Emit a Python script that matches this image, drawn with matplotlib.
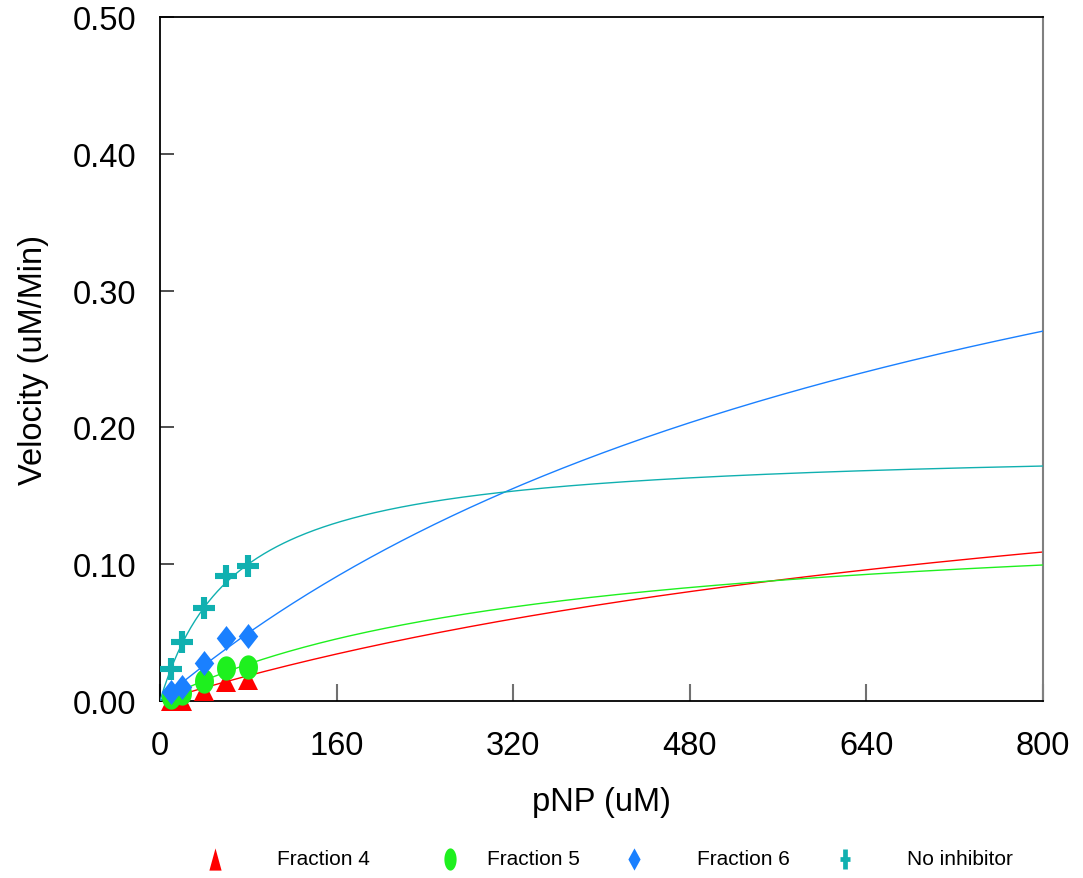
import matplotlib.pyplot as plt
import numpy as np
from matplotlib.path import Path
from matplotlib.lines import Line2D

plt.rcParams['font.family'] = ['Liberation Sans', 'DejaVu Sans']

# substrate concentrations (uM)
pnp = [10, 20, 40, 60, 80]

# measured velocities (uM/Min)
frac4 = [0.000, 0.0002, 0.0075, 0.0141, 0.0154]
frac5 = [0.0027, 0.0058, 0.0148, 0.0241, 0.0251]
frac6 = [0.0066, 0.0105, 0.0276, 0.0458, 0.0475]
no_inh = [0.0234, 0.0433, 0.0678, 0.0916, 0.0989]

# Michaelis-Menten fit parameters per series
vmax = [0.2385, 0.1416, 0.534, 0.1866]
km = [952.0, 339.6, 780.0, 69.2]

names = ['Fraction 4', 'Fraction 5', 'Fraction 6', 'No inhibitor']
colors = ['#ff0000', '#1ef01e', '#1a80ff', '#10b0b0']


def ellipse(w):
    t = np.linspace(0, 2 * np.pi, 60)
    return Path(np.column_stack([w * np.cos(t), np.sin(t)]))


def diamond(w):
    return Path([(0, 1), (w, 0), (0, -1), (-w, 0), (0, 1)],
                [Path.MOVETO, Path.LINETO, Path.LINETO, Path.LINETO, Path.CLOSEPOLY])


def triangle(w):
    return Path([(0, 1), (w, -1), (-w, -1), (0, 1)],
                [Path.MOVETO, Path.LINETO, Path.LINETO, Path.CLOSEPOLY])


def plus(w):
    return Path([(-w, 0), (w, 0), (0, -1), (0, 1)],
                [Path.MOVETO, Path.LINETO, Path.MOVETO, Path.LINETO])


styles = [dict(marker='^', markersize=15, mew=0),
          dict(marker=ellipse(0.78), markersize=17.5, mew=0),
          dict(marker=diamond(0.78), markersize=18, mew=0),
          dict(marker='+', markersize=16, mew=4.4)]

# narrower shapes used in the key below the plot
key_styles = [dict(marker=triangle(0.55), markersize=16, mew=0),
              dict(marker=ellipse(0.55), markersize=16, mew=0),
              dict(marker=diamond(0.55), markersize=16, mew=0),
              dict(marker=plus(0.5), markersize=15, mew=3.4)]

fig = plt.figure(figsize=(10.83, 8.79), dpi=100)
ax = fig.add_axes([0.1477, 0.2014, 0.8153, 0.7781])

s = np.linspace(0, 800, 400)
ys = [frac4, frac5, frac6, no_inh]
for i in range(4):
    ax.plot(s, vmax[i] * s / (km[i] + s), color=colors[i], lw=1.0, zorder=2 + i)
    ax.plot(pnp, ys[i], linestyle='none', color=colors[i], clip_on=False,
            zorder=6 + i, **styles[i])

ax.set_xlim(0, 800)
ax.set_ylim(0, 0.5)
ax.set_xticks([0, 160, 320, 480, 640, 800])
ax.set_yticks([0, 0.1, 0.2, 0.3, 0.4, 0.5])
ax.set_yticklabels(['0.00', '0.10', '0.20', '0.30', '0.40', '0.50'])
ax.tick_params(axis='x', direction='in', length=12, width=1.5, color='#707070',
               labelsize=23.5, pad=21)
ax.tick_params(axis='y', direction='in', length=10, width=1.2, color='#303030',
               labelsize=23.5, pad=17)
for side in ['left', 'bottom', 'top']:
    ax.spines[side].set_color('black')
    ax.spines[side].set_linewidth(1.3)
ax.spines['right'].set_color('#808080')
ax.spines['right'].set_linewidth(1.5)

ax.set_xlabel('pNP (uM)', fontsize=23.5, labelpad=18)
ax.set_ylabel('Velocity (uM/Min)', fontsize=23.5, labelpad=17)

# key row below the plot
key_marker_x = [215, 450, 634, 845]
key_text_x = [277, 487, 697, 907]
key_y = 1 - 860 / 879
for i in range(4):
    fig.add_artist(Line2D([key_marker_x[i] / 1083], [key_y], transform=fig.transFigure,
                          linestyle='none', color=colors[i], **key_styles[i]))
    fig.text(key_text_x[i] / 1083, key_y, names[i], fontsize=15,
             ha='left', va='center')

fig.savefig('out.png', dpi=100)
